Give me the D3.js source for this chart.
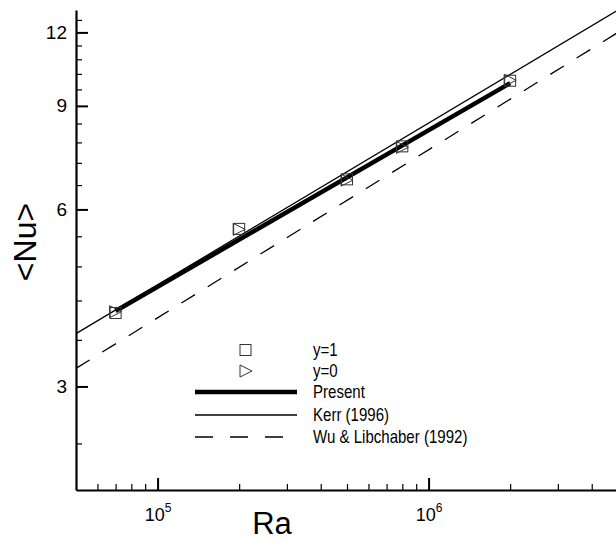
<!DOCTYPE html>
<html>
<head>
<meta charset="utf-8">
<script src="https://cdn.jsdelivr.net/npm/d3@7"></script>
<style>
  body { margin: 0; background: #fff; }
  text { font-family: "Liberation Sans", Arial, Helvetica, sans-serif; fill: #000; }
</style>
</head>
<body>
<div id="graph"></div>
<script>
// measured points (Ra, <Nu>)
var raPts = [7e4, 2e5, 5e5, 8e5, 2e6];
var nuTop = [4.0, 5.56, 6.75, 7.68, 9.93];     // y=1
var nuBottom = [4.02, 5.55, 6.73, 7.65, 9.95];  // y=0

// fitted lines, read at their end points
var presentRa = [7e4, 2e6];
var presentNu = [4.03, 9.84];
var kerrRa = [5e4, 5e6];
var kerrNu = [3.69, 13.1];
var wuRa = [5e4, 5e6];
var wuNu = [3.22, 12.0];

var xMajor = [1e5, 1e6];
var xMinor = [6e4, 7e4, 8e4, 9e4, 2e5, 3e5, 4e5, 5e5, 6e5, 7e5, 8e5, 9e5, 2e6, 3e6, 4e6];
var yMajor = [3, 6, 9, 12];
var yMinor = [2.4, 3.6, 4.2, 4.8, 5.4, 6.6, 7.2, 7.8, 8.4, 9.6, 10.2, 10.8, 11.4, 12.6];

var legendItems = ["y=1", "y=0", "Present", "Kerr (1996)", "Wu & Libchaber (1992)"];

var W = 616, H = 541;
var svg = d3.select("#graph").append("svg")
    .attr("width", W)
    .attr("height", H);

var x = d3.scaleLog().domain([5e4, 5e6]).range([76, 618]);
var y = d3.scaleLog().domain([2, 13.1]).range([490, 10]);

// lines
var line = d3.line()
    .x(function (d) { return x(d[0]); })
    .y(function (d) { return y(d[1]); });

svg.append("path")
    .datum(d3.zip(wuRa, wuNu))
    .attr("d", line)
    .attr("fill", "none")
    .attr("stroke", "#000")
    .attr("stroke-width", 1.3)
    .attr("stroke-dasharray", "16,15");

svg.append("path")
    .datum(d3.zip(kerrRa, kerrNu))
    .attr("d", line)
    .attr("fill", "none")
    .attr("stroke", "#000")
    .attr("stroke-width", 1.3);

svg.append("path")
    .datum(d3.zip(presentRa, presentNu))
    .attr("d", line)
    .attr("fill", "none")
    .attr("stroke", "#000")
    .attr("stroke-width", 4.5);

// markers
var tri = function (s) {
    return "M" + (-s / 2) + "," + (-s / 2) + "L" + (s / 2) + ",0L" + (-s / 2) + "," + (s / 2) + "Z";
};

svg.selectAll(".sq")
    .data(d3.zip(raPts, nuTop))
    .enter().append("rect")
    .attr("class", "sq")
    .attr("x", function (d) { return x(d[0]) - 5.5; })
    .attr("y", function (d) { return y(d[1]) - 5.5; })
    .attr("width", 11)
    .attr("height", 11)
    .attr("fill", "none")
    .attr("stroke", "#333")
    .attr("stroke-width", 1);

svg.selectAll(".tri")
    .data(d3.zip(raPts, nuBottom))
    .enter().append("path")
    .attr("class", "tri")
    .attr("transform", function (d) { return "translate(" + x(d[0]) + "," + y(d[1]) + ")"; })
    .attr("d", tri(12))
    .attr("fill", "none")
    .attr("stroke", "#333")
    .attr("stroke-width", 1);

// axes
var xAxis = svg.append("g")
    .attr("transform", "translate(0,490)")
    .call(d3.axisBottom(x).tickValues(xMajor).tickSize(-12).tickSizeOuter(0).tickPadding(18).tickFormat(""));
xAxis.select(".domain").attr("stroke-width", 2.2);
xAxis.selectAll(".tick line").attr("stroke-width", 2);
xAxis.selectAll(".tick text").each(function (d) {
    var t = d3.select(this)
        .attr("font-size", 18)
        .attr("dy", "0.71em");
    t.append("tspan").text("10");
    t.append("tspan").attr("font-size", 12).attr("dy", "-0.7em").text(Math.round(Math.log10(d)));
});

svg.append("g")
    .attr("transform", "translate(0,490)")
    .call(d3.axisBottom(x).tickValues(xMinor).tickSize(-6).tickSizeOuter(0).tickFormat(""))
    .call(function (g) { g.select(".domain").remove(); })
    .selectAll(".tick line").attr("stroke-width", 1.2);

var yAxis = svg.append("g")
    .attr("transform", "translate(76,0)")
    .call(d3.axisLeft(y).tickValues(yMajor).tickSize(-12).tickSizeOuter(0).tickPadding(9).tickFormat(d3.format("d")));
yAxis.select(".domain").attr("stroke-width", 2.2);
yAxis.selectAll(".tick line").attr("stroke-width", 2);
yAxis.selectAll(".tick text").attr("font-size", 19);

svg.append("g")
    .attr("transform", "translate(76,0)")
    .call(d3.axisLeft(y).tickValues(yMinor).tickSize(-6).tickSizeOuter(0).tickFormat(""))
    .call(function (g) { g.select(".domain").remove(); })
    .selectAll(".tick line").attr("stroke-width", 1.2);

svg.selectAll(".domain").attr("stroke", "#000");
svg.selectAll(".tick line").attr("stroke", "#000");
svg.selectAll(".tick text").attr("fill", "#000").attr("font-family", "Liberation Sans, Arial, sans-serif");

// axis titles
svg.append("text")
    .attr("x", 272)
    .attr("y", 534)
    .attr("text-anchor", "middle")
    .attr("font-size", 31)
    .text("Ra");

svg.append("text")
    .attr("transform", "translate(36,242) rotate(-90)")
    .attr("text-anchor", "middle")
    .attr("font-size", 32)
    .text("<Nu>");

// legend
var lg = svg.append("g");
var rowY = [350, 371, 392, 415, 437];
lg.selectAll("text")
    .data(legendItems)
    .enter().append("text")
    .attr("transform", function (d, i) { return "translate(313," + rowY[i] + ") scale(0.86,1)"; })
    .attr("dy", "0.36em")
    .attr("font-size", 17.5)
    .text(function (d) { return d; });

lg.append("rect")
    .attr("x", 240).attr("y", rowY[0] - 5.5)
    .attr("width", 11).attr("height", 11)
    .attr("fill", "none").attr("stroke", "#333");
lg.append("path")
    .attr("transform", "translate(246," + rowY[1] + ")")
    .attr("d", tri(12))
    .attr("fill", "none").attr("stroke", "#333");
lg.append("line")
    .attr("x1", 195).attr("x2", 297).attr("y1", rowY[2]).attr("y2", rowY[2])
    .attr("stroke", "#000").attr("stroke-width", 4.5);
lg.append("line")
    .attr("x1", 195).attr("x2", 297).attr("y1", rowY[3]).attr("y2", rowY[3])
    .attr("stroke", "#000").attr("stroke-width", 1.3);
lg.append("line")
    .attr("x1", 195).attr("x2", 297).attr("y1", rowY[4]).attr("y2", rowY[4])
    .attr("stroke", "#000").attr("stroke-width", 1.3)
    .attr("stroke-dasharray", "18,17");
</script>
</body>
</html>
